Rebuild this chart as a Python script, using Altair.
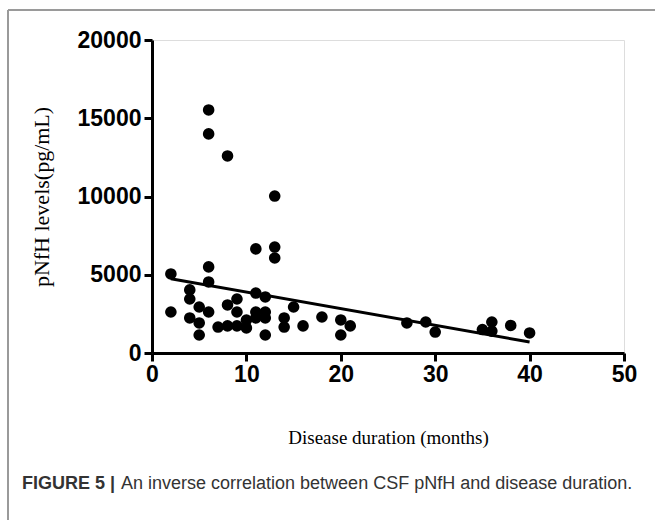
import altair as alt
import pandas as pd

months = [2, 2, 4, 4, 4, 5, 5, 5, 6, 6, 6, 6, 6, 7, 8, 8, 8, 9, 9, 9, 10, 10,
          11, 11, 11, 11, 12, 12, 12, 12, 13, 13, 13, 14, 14, 15, 16, 18, 20, 20,
          21, 27, 29, 30, 35, 36, 36, 38, 40]
pnfh = [5050, 2620, 4030, 3450, 2240, 2940, 1920, 1150, 15530, 14000, 5500, 4540, 2620,
        1660, 12590, 3070, 1730, 3450, 2620, 1730, 1600, 2100,
        6650, 3830, 2620, 2240, 3580, 2620, 2240, 1150, 10030, 6770, 6070, 2240, 1660,
        2940, 1730, 2300, 2110, 1150, 1730, 1920, 1980, 1340, 1500, 1980, 1400, 1760, 1280]

fit_x = [2, 40]
fit_y = [4750, 700]

x_ticks = [0, 10, 20, 30, 40, 50]
y_ticks = [0, 5000, 10000, 15000, 20000]

pts = pd.DataFrame({"m": months, "v": pnfh})
fit = pd.DataFrame({"m": fit_x, "v": fit_y})

xscale = alt.Scale(domain=[0, 50], nice=False, zero=True)
yscale = alt.Scale(domain=[0, 20000], nice=False)

xaxis = alt.Axis(values=x_ticks, format="d", title="Disease duration (months)", grid=False,
                 domainColor="black", domainWidth=3, tickColor="black", tickWidth=3,
                 tickSize=8, labelFont="Liberation Sans", labelFontWeight="bold",
                 labelFontSize=23, labelColor="black", labelPadding=2,
                 titleFont="Liberation Serif", titleFontWeight="normal", titleFontSize=19,
                 titleColor="black", titlePadding=42, labelFlush=False)
yaxis = alt.Axis(values=y_ticks, format="d", title="pNfH levels(pg/mL)", grid=False,
                 domainColor="black", domainWidth=3, tickColor="black", tickWidth=3,
                 tickSize=8, labelFont="Liberation Sans", labelFontWeight="bold",
                 labelFontSize=23, labelColor="black", labelPadding=3,
                 titleFont="Liberation Serif", titleFontWeight="normal", titleFontSize=22,
                 titleColor="black", titlePadding=24, labelFlush=False)

points = alt.Chart(pts).mark_circle(size=135, color="black", opacity=1).encode(
    x=alt.X("m:Q", scale=xscale, axis=xaxis),
    y=alt.Y("v:Q", scale=yscale, axis=yaxis),
)

line = alt.Chart(fit).mark_line(color="black", strokeWidth=3).encode(
    x=alt.X("m:Q", scale=xscale),
    y=alt.Y("v:Q", scale=yscale),
)

frame_top = alt.Chart(pd.DataFrame({"a": [0]})).mark_rule(color="#9a9a9a", strokeWidth=2).encode(
    x=alt.value(-144), x2=alt.value(520), y=alt.value(-30))
frame_left = alt.Chart(pd.DataFrame({"a": [0]})).mark_rule(color="#9a9a9a", strokeWidth=2).encode(
    x=alt.value(-144), y=alt.value(-30), y2=alt.value(500))

cap_bold = alt.Chart(pd.DataFrame({"t": ["FIGURE 5 |"]})).mark_text(
    align="left", baseline="middle", font="Liberation Sans", fontWeight="bold",
    fontSize=18, color="#333333").encode(
    text="t:N", x=alt.value(-130), y=alt.value(444))
cap_text = alt.Chart(pd.DataFrame({"t": ["An inverse correlation between CSF pNfH and disease duration."]})).mark_text(
    align="left", baseline="middle", font="Liberation Sans", fontWeight="normal",
    fontSize=18, color="#333333").encode(
    text="t:N", x=alt.value(-31), y=alt.value(444))

chart = alt.layer(points, line, frame_top, frame_left, cap_bold, cap_text).properties(
    width=472, height=313,
    autosize=alt.AutoSizeParams(type="none"),
    padding={"left": 152, "top": 40, "right": 31, "bottom": 167},
).configure_view(stroke=None).configure(background="white")

chart.save("out.html", embed_options={"renderer": "svg", "actions": False})
